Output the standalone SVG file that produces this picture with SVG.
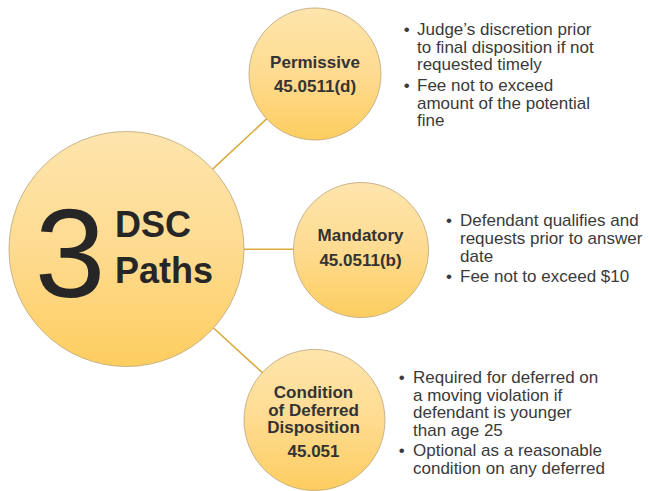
<svg xmlns="http://www.w3.org/2000/svg" width="649" height="491" viewBox="0 0 649 491">
<defs>
<linearGradient id="gold" x1="0" y1="0" x2="0" y2="1">
<stop offset="0" stop-color="#FEE5AD"/>
<stop offset="0.5" stop-color="#FEDB90"/>
<stop offset="1" stop-color="#FDCD5F"/>
</linearGradient>
<style>
.node{fill:url(#gold);stroke:#BBA57A;stroke-width:0.8}
.conn{stroke:#D9AB3E;stroke-width:1.6;fill:none}
.lbl{font-family:"Liberation Sans",Arial,sans-serif;font-weight:bold;font-size:17px;fill:#333333;text-anchor:middle}
.note{font-family:"Liberation Sans",Arial,sans-serif;font-size:17px;fill:#3A3A3A}
.big{font-family:"Liberation Sans",Arial,sans-serif;fill:#262626}
</style>
</defs>
<rect width="649" height="491" fill="#FFFFFF"/>
<g id="connectors">
<line class="conn" x1="212.6" y1="169.1" x2="266.6" y2="118.9"/>
<line class="conn" x1="244" y1="249.3" x2="293.5" y2="249.3"/>
<line class="conn" x1="213.5" y1="328" x2="262.3" y2="372.6"/>
</g>
<g id="node-center">
<circle class="node" cx="126.5" cy="249" r="117.5"/>
<text class="big" x="34.7" y="297" font-size="127">3</text>
<text class="big" x="115" y="237" font-size="36" font-weight="bold">DSC</text>
<text class="big" x="115" y="283" font-size="36" font-weight="bold">Paths</text>
</g>
<g id="node-permissive">
<circle class="node" cx="315" cy="74" r="66"/>
<text class="lbl" x="315" y="68">Permissive</text>
<text class="lbl" x="315" y="91.5">45.0511(d)</text>
</g>
<g id="node-mandatory">
<circle class="node" cx="361" cy="250" r="67.5"/>
<text class="lbl" x="360.5" y="240.7">Mandatory</text>
<text class="lbl" x="360.5" y="266">45.0511(b)</text>
</g>
<g id="node-condition">
<circle class="node" cx="314.5" cy="420" r="70.5"/>
<text class="lbl" x="313.5" y="398">Condition</text>
<text class="lbl" x="313.5" y="415.5">of Deferred</text>
<text class="lbl" x="313.5" y="433">Disposition</text>
<text class="lbl" x="313.5" y="457">45.051</text>
</g>
<g id="notes-permissive" class="note">
<text x="403.7" y="35">•</text>
<text x="417" y="35">Judge’s discretion prior</text>
<text x="417" y="52.5">to final disposition if not</text>
<text x="417" y="70">requested timely</text>
<text x="403.7" y="91">•</text>
<text x="417" y="91">Fee not to exceed</text>
<text x="417" y="108.5">amount of the potential</text>
<text x="417" y="126">fine</text>
</g>
<g id="notes-mandatory" class="note">
<text x="446" y="226">•</text>
<text x="460" y="226">Defendant qualifies and</text>
<text x="460" y="244">requests prior to answer</text>
<text x="460" y="262">date</text>
<text x="446" y="282">•</text>
<text x="460" y="282">Fee not to exceed $10</text>
</g>
<g id="notes-condition" class="note">
<text x="398.7" y="383">•</text>
<text x="413" y="383">Required for deferred on</text>
<text x="413" y="400.5">a moving violation if</text>
<text x="413" y="418">defendant is younger</text>
<text x="413" y="435.5">than age 25</text>
<text x="398.7" y="456">•</text>
<text x="413" y="456">Optional as a reasonable</text>
<text x="413" y="473.5">condition on any deferred</text>
</g>
</svg>
